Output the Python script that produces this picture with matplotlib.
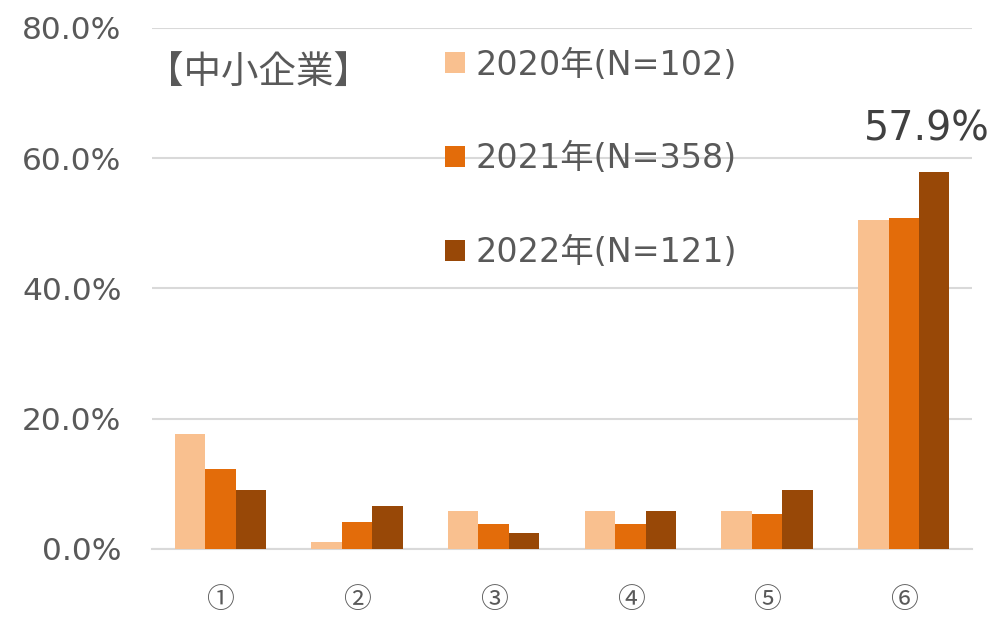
import matplotlib
matplotlib.use("Agg")
import matplotlib.pyplot as plt
import numpy as np

plt.rcParams['font.family'] = ['DejaVu Sans', 'Noto Sans CJK JP']

categories = ['①', '②', '③', '④', '⑤', '⑥']
series_labels = ['2020年(N=102)', '2021年(N=358)', '2022年(N=121)']
v2020 = [17.6, 1.0, 5.9, 5.9, 5.9, 50.5]
v2021 = [12.3, 4.2, 3.9, 3.9, 5.3, 50.8]
v2022 = [9.1, 6.6, 2.5, 5.8, 9.1, 57.9]
colors = ['#F9C08F', '#E36C0A', '#984807']
yticks = [0, 20, 40, 60, 80]

TXT = '#595959'
fig = plt.figure(figsize=(9.95, 6.19), dpi=100)
ax = fig.add_axes([0.1528, 0.1131, 0.977 - 0.1528, 0.9548 - 0.1131])

x = np.arange(len(categories))
w = 0.223
handles = []
for i, (vals, lab, c) in enumerate(zip([v2020, v2021, v2022], series_labels, colors)):
    h = ax.bar(x + (i - 1) * w, vals, w, color=c, label=lab, zorder=3)
    handles.append(h)

ax.set_ylim(0, 80)
ax.set_xlim(-0.5, len(categories) - 0.5)
ax.set_yticks(yticks)
ax.set_yticklabels([f'{t:.1f}%' for t in yticks], fontsize=22.5, color=TXT)
ax.set_xticks(x)
ax.set_xticklabels(categories, fontsize=20, color=TXT,
                   fontfamily=['Noto Sans CJK JP', 'DejaVu Sans'])
ax.tick_params(axis='both', length=0)
ax.tick_params(axis='x', pad=26)
ax.tick_params(axis='y', pad=22)
ax.grid(axis='y', color='#d9d9d9', linewidth=1.5, zorder=0)
for s in ['top', 'right', 'left']:
    ax.spines[s].set_visible(False)
ax.spines['bottom'].set_color('#d9d9d9')
ax.spines['bottom'].set_linewidth(1.5)

# annotation for the max value
ax.annotate(f'{v2022[5]:.1f}%', xy=(x[5] + w, v2022[5]), xytext=(-5, 16),
            textcoords='offset points', ha='center', va='bottom',
            fontsize=28.5, color='#404040')

fig.text(0.147, 0.882, '【中小企業】', fontsize=27, color=TXT, ha='left', va='center',
         fontfamily=['Noto Sans CJK JP', 'DejaVu Sans'])

leg = ax.legend(handles=handles, loc='upper left', bbox_to_anchor=(0.434, 0.943),
                bbox_transform=fig.transFigure, frameon=False, fontsize=24,
                handlelength=0.6, handleheight=0.6, handletextpad=0.3,
                labelspacing=1.82, borderaxespad=0)
for t in leg.get_texts():
    t.set_color(TXT)

fig.savefig('out.png', dpi=100)
